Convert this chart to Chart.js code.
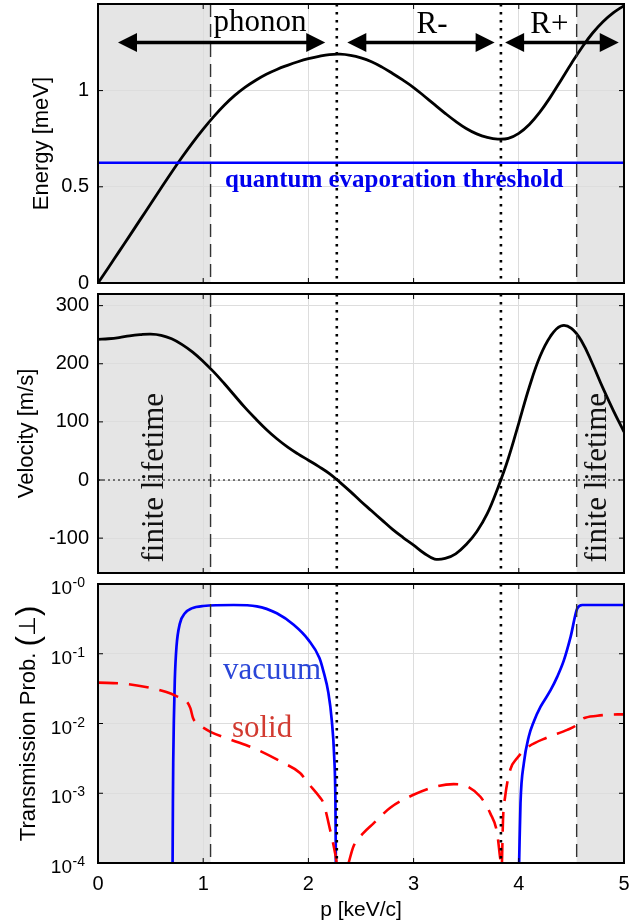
<!DOCTYPE html>
<html><head><meta charset="utf-8">
<script src="https://cdn.jsdelivr.net/npm/chart.js@4.4.1/dist/chart.umd.min.js"></script>
<style>
html,body{margin:0;padding:0;background:#fff;overflow:hidden;width:641px;height:921px;}
canvas{position:absolute;left:0;}
</style></head><body>
<canvas id="c1" width="641" height="290" style="top:0px"></canvas>
<canvas id="c2" width="641" height="290" style="top:290px"></canvas>
<canvas id="c3" width="641" height="361" style="top:560px"></canvas>
<script>
// ---------------- data ----------------
const pTicks = [0, 1, 2, 3, 4, 5];
const energyTicks = [0, 0.5, 1];
const velocityTicks = [-100, 0, 100, 200, 300];
const transTicks = [1e-4, 1e-3, 1e-2, 1e-1, 1];
const transTickExp = ['-4', '-3', '-2', '-1', '-0'];

// momentum grid (keV/c) for the dispersion and group velocity
const pGrid = [0.0, 0.1, 0.2, 0.3, 0.4, 0.5, 0.6, 0.7, 0.8, 0.9,
               1.0, 1.1, 1.2, 1.3, 1.4, 1.5, 1.6, 1.7, 1.8, 1.9,
               2.0, 2.1, 2.2, 2.3, 2.4, 2.5, 2.6, 2.7, 2.8, 2.9,
               3.0, 3.1, 3.2, 3.3, 3.4, 3.5, 3.6, 3.7, 3.8, 3.9,
               4.0, 4.1, 4.2, 4.3, 4.4, 4.5, 4.6, 4.7, 4.8, 4.9, 5.0];
const energyMeV = [0, 0.081, 0.163, 0.245, 0.328, 0.411, 0.494, 0.576, 0.655, 0.730,
                   0.800, 0.865, 0.924, 0.975, 1.018, 1.054, 1.085, 1.110, 1.131, 1.150,
                   1.166, 1.178, 1.187, 1.189, 1.183, 1.170, 1.150, 1.122, 1.089, 1.054,
                   1.016, 0.972, 0.927, 0.882, 0.840, 0.803, 0.775, 0.757, 0.748, 0.752,
                   0.778, 0.824, 0.888, 0.966, 1.053, 1.141, 1.224, 1.298, 1.358, 1.405, 1.442];
const velocityMS = [242, 243, 245, 248, 250, 251, 249, 243, 233, 220,
                    204, 186, 166, 145, 124, 105, 87, 71, 57, 45,
                    34, 23, 11, -4, -20, -37, -53, -69, -85, -99,
                    -112, -126, -136, -135, -127, -111, -89, -58, -14, 37,
                    98, 160, 212, 247, 265, 261, 238, 200, 158, 119, 83];
const thresholdMeV = 0.625;

const vacuumP1 = [0.709, 0.712, 0.715, 0.721, 0.73, 0.746, 0.778, 0.826, 0.89, 1.0, 1.29, 1.51, 1.70, 1.86, 2.0, 2.105, 2.143, 2.19, 2.222, 2.245, 2.257, 2.261];
const vacuumT1 = [1e-4, 7.2e-4, 2.7e-3, 1.1e-2, 4.2e-2, 0.126, 0.27, 0.38, 0.447, 0.484, 0.50, 0.479, 0.38, 0.26, 0.158, 0.087, 0.056, 0.0275, 0.0112, 3.4e-3, 7.2e-4, 1e-4];
const vacuumP2 = [4.003, 4.016, 4.048, 4.095, 4.143, 4.207, 4.302, 4.366, 4.429, 4.493, 4.556, 4.604, 5.0];
const vacuumT2 = [1e-4, 7.2e-4, 2.7e-3, 6.5e-3, 1.07e-2, 1.74e-2, 3.0e-2, 4.7e-2, 8.1e-2, 0.176, 0.447, 0.50, 0.50];

const solidP1 = [0, 0.25, 0.5, 0.65, 0.75, 0.84, 0.878, 0.903, 0.941, 1.0, 1.068, 1.258, 1.502, 1.746, 1.921, 2.0, 2.105, 2.143, 2.206, 2.254, 2.27];
const solidT1 = [0.0385, 0.0372, 0.0324, 0.0282, 0.0245, 0.0209, 0.0166, 0.0120, 0.0100, 0.0087, 0.0076, 0.0059, 0.0043, 0.0028, 0.00195, 0.00138, 0.00089, 0.00072, 0.0003, 0.000138, 1e-4];
const solidP2 = [2.382, 2.429, 2.524, 2.619, 2.778, 2.999, 3.222, 3.381, 3.508, 3.635, 3.73, 3.794, 3.825, 3.832];
const solidT2 = [1e-4, 1.74e-4, 2.7e-4, 3.7e-4, 6.2e-4, 9.5e-4, 1.26e-3, 1.35e-3, 1.26e-3, 8.9e-4, 5.1e-4, 2.7e-4, 1.12e-4, 1e-4];
const solidP3 = [3.84, 3.85, 3.87, 3.92, 3.985, 4.08, 4.27, 4.46, 4.549, 4.6, 4.746, 4.937, 5.0];
const solidT3 = [1e-4, 4.2e-4, 8.9e-4, 2.2e-3, 3.2e-3, 4.5e-3, 6.3e-3, 8.1e-3, 9.5e-3, 1.15e-2, 1.29e-2, 1.35e-2, 1.35e-2];

const lifetimeBounds = [1.07, 4.55];   // finite-lifetime limits (dashed)
const extremaP = [2.27, 3.83];         // maxon / roton momenta (dotted)
const regionNames = ['phonon', 'R-', 'R+'];
const regionFrom = [0.19, 2.37, 3.87];
const regionTo   = [2.16, 3.77, 4.95];

// ---------------- styling / layout ----------------
const SANS = '"Liberation Sans", Arial, Helvetica, sans-serif';
const SERIF = '"Liberation Serif", "Times New Roman", Times, serif';
const GRID = '#dddddd';
const AXIS_W = 98;

function pts(xs, ys) { return xs.map((x, i) => ({x: x, y: ys[i]})); }
function ds(xs, ys, color, width, dash, smooth) {
  const o = {data: pts(xs, ys), borderColor: color, borderWidth: width, borderDash: dash || [],
             pointRadius: 0, fill: false};
  if (smooth) { o.tension = 0.4; } else { o.cubicInterpolationMode = 'monotone'; }
  return o;
}
function fixTicks(arr) { return s => { s.ticks = arr.map(v => ({value: v})); }; }

function xScale(show) {
  return {
    type: 'linear', min: 0, max: 5, position: 'bottom',
    afterBuildTicks: fixTicks(pTicks),
    afterFit: s => { s.height = show ? 58 : 7; s.paddingLeft = 0; s.paddingRight = 0; },
    grid: {color: GRID, lineWidth: 1, drawTicks: false},
    border: {display: false},
    ticks: {display: show, padding: 9, maxRotation: 0, color: '#000', font: {family: SANS, size: 20}},
    title: {display: show, text: 'p [keV/c]', color: '#000', font: {family: SANS, size: 21, lineHeight: 1}, padding: {top: 0, bottom: 0.5}}
  };
}
function yScale(extra, title, titlePad) {
  return Object.assign({
    position: 'left',
    afterFit: s => { s.width = AXIS_W; s.paddingTop = 0; s.paddingBottom = 0; },
    grid: {color: GRID, lineWidth: 1, drawTicks: false},
    border: {display: false},
    ticks: {padding: 9, color: '#000', font: {family: SANS, size: 20}, callback: v => String(v)},
    title: {display: !!title, text: title || '', color: '#000', font: {family: SANS, size: 22}, padding: {top: titlePad, bottom: 0}}
  }, extra);
}

function vline(ctx, px, a) { ctx.beginPath(); ctx.moveTo(px, a.top); ctx.lineTo(px, a.bottom); ctx.stroke(); }

function framePlugin(extra) {
  return {
    id: 'frame',
    beforeDraw(chart) {
      const {ctx, chartArea: a, scales: {x}} = chart;
      ctx.save();
      ctx.fillStyle = '#fff'; ctx.fillRect(a.left, a.top, a.right - a.left, a.bottom - a.top);
      ctx.fillStyle = '#e5e5e5';
      const xl = x.getPixelForValue(lifetimeBounds[0]);
      const xr = x.getPixelForValue(lifetimeBounds[1]);
      ctx.fillRect(a.left, a.top, xl - a.left, a.bottom - a.top);
      ctx.fillRect(xr, a.top, a.right - xr, a.bottom - a.top);
      ctx.restore();
    },
    afterDatasetsDraw(chart) {
      const {ctx, chartArea: a, scales: {x}} = chart;
      ctx.save();
      ctx.strokeStyle = '#333'; ctx.lineWidth = 1.4; ctx.setLineDash([13, 7]);
      lifetimeBounds.forEach(v => vline(ctx, x.getPixelForValue(v), a));
      ctx.strokeStyle = '#000'; ctx.lineWidth = 2.6; ctx.setLineDash([2.6, 5.4]);
      extremaP.forEach(v => vline(ctx, x.getPixelForValue(v), a));
      ctx.restore();
      if (extra) { ctx.save(); extra(chart); ctx.restore(); }
    },
    afterDraw(chart) {
      const {ctx, chartArea: a, scales: {x, y}} = chart;
      ctx.save();
      ctx.strokeStyle = '#000'; ctx.lineWidth = 1; ctx.setLineDash([]);
      y.ticks.forEach(t => {
        const py = y.getPixelForValue(t.value);
        ctx.beginPath(); ctx.moveTo(a.left, py); ctx.lineTo(a.left + 5, py);
        ctx.moveTo(a.right, py); ctx.lineTo(a.right - 5, py); ctx.stroke();
      });
      x.ticks.forEach(t => {
        const px = x.getPixelForValue(t.value);
        ctx.beginPath(); ctx.moveTo(px, a.bottom); ctx.lineTo(px, a.bottom - 5);
        ctx.moveTo(px, a.top); ctx.lineTo(px, a.top + 5); ctx.stroke();
      });
      ctx.lineWidth = 2;
      ctx.strokeRect(a.left, a.top, a.right - a.left, a.bottom - a.top);
      ctx.restore();
    }
  };
}

function arrow(ctx, x1, x2, y) {
  const hl = 19, hw = 9.5;
  ctx.strokeStyle = '#000'; ctx.fillStyle = '#000'; ctx.lineWidth = 3.5; ctx.setLineDash([]);
  ctx.beginPath(); ctx.moveTo(x1 + hl - 2, y); ctx.lineTo(x2 - hl + 2, y); ctx.stroke();
  ctx.beginPath(); ctx.moveTo(x1, y); ctx.lineTo(x1 + hl, y - hw); ctx.lineTo(x1 + hl, y + hw); ctx.closePath(); ctx.fill();
  ctx.beginPath(); ctx.moveTo(x2, y); ctx.lineTo(x2 - hl, y - hw); ctx.lineTo(x2 - hl, y + hw); ctx.closePath(); ctx.fill();
}
function text(ctx, s, x, y, font, color, align, rot, baseline) {
  ctx.save(); ctx.translate(x, y); if (rot) ctx.rotate(rot);
  ctx.font = font; ctx.fillStyle = color; ctx.textAlign = align || 'left'; ctx.textBaseline = baseline || 'alphabetic';
  ctx.fillText(s, 0, 0); ctx.restore();
}

const baseOpts = (scales, padTop) => ({
  responsive: false, animation: false, devicePixelRatio: 1,
  layout: {padding: {top: padTop, right: 17, left: 0, bottom: 0}},
  plugins: {legend: {display: false}, tooltip: {enabled: false}},
  scales: scales
});

// ---------------- panel 1: energy ----------------
new Chart(document.getElementById('c1'), {
  type: 'line',
  data: {datasets: [
    ds([0, 5], [thresholdMeV, thresholdMeV], '#0000ff', 2.6),
    ds(pGrid, energyMeV, '#000000', 2.8, null, true)
  ]},
  options: baseOpts({
    x: xScale(false),
    y: yScale({type: 'linear', min: 0, max: 1.45, afterBuildTicks: fixTicks(energyTicks)}, 'Energy [meV]', 29)
  }, 4),
  plugins: [framePlugin(chart => {
    const {ctx, scales: {x, y}} = chart;
    const ya = y.getPixelForValue(1.25);
    for (let i = 0; i < regionNames.length; i++) {
      arrow(ctx, x.getPixelForValue(regionFrom[i]), x.getPixelForValue(regionTo[i]), ya);
    }
    text(ctx, regionNames[0], x.getPixelForValue(1.54), y.getPixelForValue(1.311), '31px ' + SERIF, '#000', 'center');
    text(ctx, regionNames[1], x.getPixelForValue(3.175), y.getPixelForValue(1.30), '31px ' + SERIF, '#000', 'center');
    text(ctx, regionNames[2], x.getPixelForValue(4.29), y.getPixelForValue(1.30), '31px ' + SERIF, '#000', 'center');
    text(ctx, 'quantum evaporation threshold', x.getPixelForValue(1.207), y.getPixelForValue(0.50), 'bold 25px ' + SERIF, '#0000ee', 'left');
  })]
});

// ---------------- panel 2: velocity ----------------
new Chart(document.getElementById('c2'), {
  type: 'line',
  data: {datasets: [
    ds([0, 5], [0, 0], '#000000', 1, [2, 3]),
    ds(pGrid, velocityMS, '#000000', 2.8, null, true)
  ]},
  options: baseOpts({
    x: xScale(false),
    y: yScale({type: 'linear', min: -160, max: 320, afterBuildTicks: fixTicks(velocityTicks)}, 'Velocity [m/s]', 14)
  }, 4),
  plugins: [framePlugin(chart => {
    const {ctx, scales: {x, y}} = chart;
    const yc = y.getPixelForValue(4);
    text(ctx, 'finite lifetime', x.getPixelForValue(0.62), yc, '31px ' + SERIF, '#111', 'center', -Math.PI / 2);
    text(ctx, 'finite lifetime', x.getPixelForValue(4.826), yc, '31px ' + SERIF, '#111', 'center', -Math.PI / 2);
  })]
});

// ---------------- panel 3: transmission ----------------
new Chart(document.getElementById('c3'), {
  type: 'line',
  data: {datasets: [
    ds(solidP1, solidT1, '#ff0000', 2.6, [20, 11]),
    ds(solidP2, solidT2, '#ff0000', 2.6, [20, 11]),
    ds(solidP3, solidT3, '#ff0000', 2.6, [20, 11]),
    ds(vacuumP1, vacuumT1, '#0000ff', 2.7),
    ds(vacuumP2, vacuumT2, '#0000ff', 2.7)
  ]},
  options: baseOpts({
    x: xScale(true),
    y: yScale({type: 'logarithmic', min: 1e-4, max: 1, afterBuildTicks: fixTicks(transTicks)}, null, 0)
  }, 24),
  plugins: [framePlugin(chart => {
    const {ctx, chartArea: a, scales: {x, y}} = chart;
    text(ctx, 'vacuum', x.getPixelForValue(1.188), y.getPixelForValue(0.0435), '31px ' + SERIF, '#2a46d8', 'left');
    text(ctx, 'solid', x.getPixelForValue(1.273), y.getPixelForValue(0.00643), '31px ' + SERIF, '#d23a30', 'left');
  }), {
    id: 'logLabels',
    beforeInit(chart) { chart.options.scales.y.ticks.display = false; },
    afterDraw(chart) {
      const {ctx, chartArea: a, scales: {y}} = chart;
      ctx.save();
      transTicks.forEach((v, i) => {
        const py = y.getPixelForValue(v);
        text(ctx, '10', 72, py + 10, '19px ' + SANS, '#000', 'right');
        text(ctx, transTickExp[i], 72.5, py + 3, '14px ' + SANS, '#000', 'left');
      });
      // axis title with large parentheses
      const parts = [['Transmission Prob. ', '22px ' + SANS], ['(', '31px ' + SANS], ['\u22A5', '23px "DejaVu Sans", ' + SANS], [')', '31px ' + SANS]];
      let total = 0;
      const widths = parts.map(p => { ctx.font = p[1]; const w = ctx.measureText(p[0]).width; total += w; return w; });
      const cy = (a.top + a.bottom) / 2;
      ctx.translate(29, cy); ctx.rotate(-Math.PI / 2);
      let cx = -total / 2;
      parts.forEach((p, i) => {
        ctx.font = p[1]; ctx.fillStyle = '#000'; ctx.textAlign = 'left'; ctx.textBaseline = 'middle';
        ctx.fillText(p[0], cx, 0); cx += widths[i];
      });
      ctx.restore();
    }
  }]
});
</script>
</body></html>
